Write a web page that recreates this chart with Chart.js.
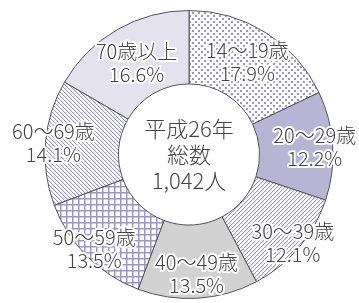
<!DOCTYPE html>
<html><head><meta charset="utf-8">
<script src="https://cdn.jsdelivr.net/npm/chart.js@4/dist/chart.umd.min.js"></script>
<style>html,body{margin:0;padding:0;background:#fff}#w{width:359px;height:303px}</style>
</head><body><div id="w"><canvas id="c" width="359" height="303"></canvas></div>
<script>
const categories = ['14～19歳','20～29歳','30～39歳','40～49歳','50～59歳','60～69歳','70歳以上'];
const shares = [17.9, 12.2, 12.1, 13.5, 13.5, 14.1, 16.6];
const shareLabels = ['17.9%','12.2%','12.1%','13.5%','13.5%','14.1%','16.6%'];
const centerLines = ['平成26年','総数','1,042人'];

// style: label distance as fraction of outer radius
const labelRadiusFrac = [0.76, 0.875, 0.945, 0.83, 0.93, 0.945, 0.73];
const PURPLE = '#9b96c8';

function tile(w, h, draw){
  const c = document.createElement('canvas'); c.width = w; c.height = h;
  const x = c.getContext('2d'); x.fillStyle = '#fff'; x.fillRect(0,0,w,h);
  draw(x); return x.createPattern(c, 'repeat');
}
const dots = tile(6, 6, x => { x.fillStyle = PURPLE; x.fillRect(0,0,2,2); x.fillRect(3,3,2,2); });
const diagUp = tile(4, 4, x => { x.fillStyle = PURPLE; for (let i=0;i<4;i++){ x.fillRect(i, 3-i, 1.3, 1); } });
const diagDown = tile(4, 4, x => { x.fillStyle = PURPLE; for (let i=0;i<4;i++){ x.fillRect(i, i, 1.3, 1); } });
const grid = tile(6, 6, x => { x.fillStyle = PURPLE; x.fillRect(0,0,6,1.5); x.fillRect(0,0,1.5,6); });
const fills = [dots, '#b8b4d4', diagUp, '#d2d2d2', grid, diagDown, '#e4e2ef'];

const FONT = '"Noto Sans CJK JP", "Noto Sans", sans-serif';

const labelPlugin = {
  id: 'labels',
  afterDatasetsDraw(chart){
    const ctx = chart.ctx;
    const meta = chart.getDatasetMeta(0);
    ctx.save();
    ctx.textAlign = 'center'; ctx.textBaseline = 'middle';
    ctx.lineJoin = 'round';
    meta.data.forEach((arc, i) => {
      const p = arc.getProps(['x','y','startAngle','endAngle','outerRadius'], true);
      const a = (p.startAngle + p.endAngle) / 2;
      const r = p.outerRadius * labelRadiusFrac[i];
      const cx = p.x + Math.cos(a) * r, cy = p.y + Math.sin(a) * r;
      ctx.font = '300 20px ' + FONT;
      [[categories[i], cy - 11.5], [shareLabels[i], cy + 11.5]].forEach(([t, y]) => {
        ctx.strokeStyle = '#fff'; ctx.lineWidth = 4; ctx.strokeText(t, cx, y);
        ctx.fillStyle = '#444'; ctx.fillText(t, cx, y);
      });
    });
    const a0 = meta.data[0];
    ctx.font = '300 22px ' + FONT; ctx.fillStyle = '#444';
    centerLines.forEach((t, k) => ctx.fillText(t, a0.x, a0.y + (k - 1) * 26));
    ctx.restore();
  }
};

new Chart(document.getElementById('c'), {
  type: 'doughnut',
  data: { labels: categories, datasets: [{ data: shares, backgroundColor: fills, borderColor: '#555', borderWidth: 1 }] },
  options: {
    responsive: false, animation: false, cutout: '49%',
    layout: { padding: { top: 10, bottom: 4, left: 19, right: 0 } },
    plugins: { legend: { display: false }, tooltip: { enabled: false } }
  },
  plugins: [labelPlugin]
});
</script></body></html>
